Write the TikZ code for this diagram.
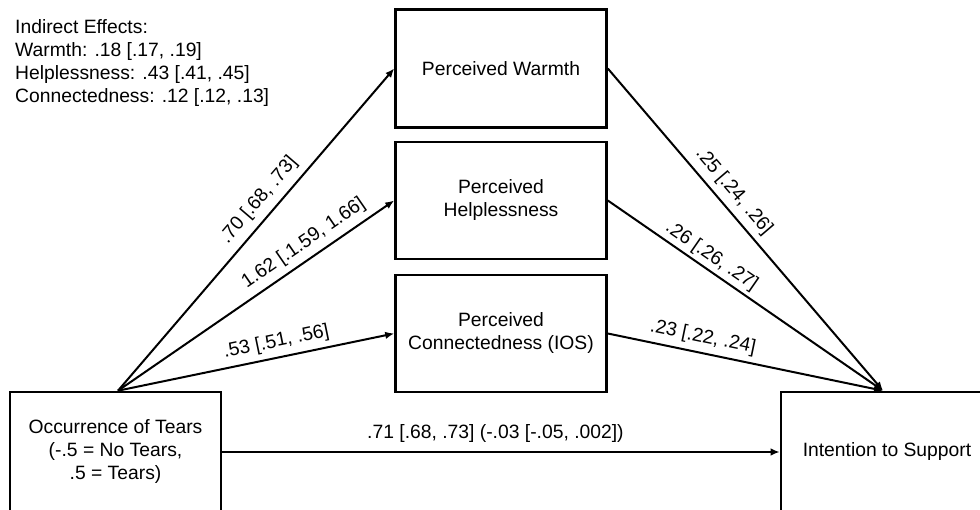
\documentclass[tikz,border=0pt]{standalone}
\usepackage{fontspec}
\setmainfont{Liberation Sans}
\usetikzlibrary{arrows.meta}
\begin{document}
\begin{tikzpicture}[x=1pt,y=-1pt,
  every node/.style={font=\fontsize{19.3}{23}\selectfont},
  box/.style={draw=black,line width=2.6pt,rectangle,minimum width=211pt,align=center,inner sep=0pt},
  conn/.style={line width=2pt,-{Latex[length=9pt,width=7.5pt]}},
  lab/.style={sloped,inner sep=0pt}
]
\clip (0,0) rectangle (980,510);
\fill[white] (0,0) rectangle (980,510);

\node[anchor=north west,align=left,inner sep=0pt] (ind) at (15,19)
  {Indirect Effects:\\Warmth: .18 [.17, .19]\\Helplessness: .43 [.41, .45]\\Connectedness: .12 [.12, .13]};

\node[box,minimum height=120pt] (src) at (115.5,452) {Occurrence of Tears\\(-.5 = No Tears,\\.5 = Tears)};
\node[box,minimum height=120pt,minimum width=212pt] (tgt) at (887,452) {Intention to Support};

\node[box,minimum height=118pt] (warm) at (501,68.5) {Perceived Warmth};
\node[box,minimum height=117pt] (help) at (501,200.5) {Perceived\\Helplessness};
\node[box,minimum height=117pt] (ios) at (501,333.5) {Perceived\\Connectedness (IOS)};

\coordinate (s) at ([xshift=2.5pt]src.north);
\coordinate (t) at ([xshift=-4pt]tgt.north);

\draw[conn] (s) -- (warm.west) node[lab,pos=0.557,above=7pt] {.70 [.68, .73]};
\draw[conn] (s) -- (help.west) node[lab,pos=0.705,above=6pt] {1.62 [.1.59, 1.66]};
\draw[conn] (s) -- (ios.west) node[lab,pos=0.585,above=5.5pt] {.53 [.51, .56]};

\draw[conn] (warm.east) -- (t) node[lab,pos=0.414,above=6pt] {.25 [.24, .26]};
\draw[conn] (help.east) -- (t) node[lab,pos=0.35,above=3pt] {.26 [.26, .27]};
\draw[conn] (ios.east) -- (t) node[lab,pos=0.334,above=5.5pt] {.23 [.22, .24]};

\draw[conn] (src.east) -- (tgt.west) node[pos=0.49,above=8pt,inner sep=0pt] {.71 [.68, .73] (-.03 [-.05, .002])};
\end{tikzpicture}
\end{document}
